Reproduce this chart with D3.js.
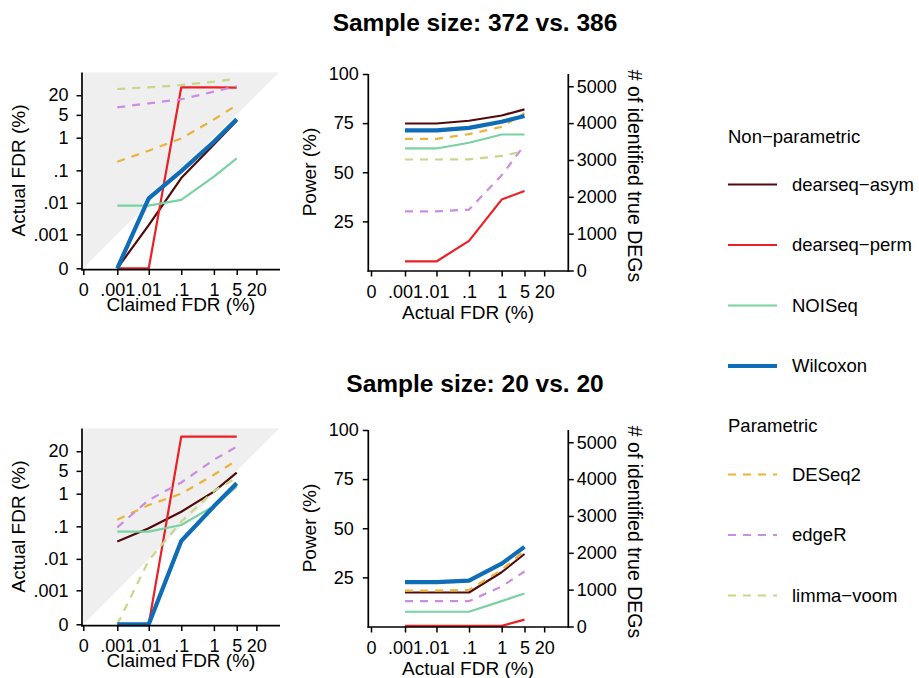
<!DOCTYPE html>
<html><head><meta charset="utf-8">
<script src="https://cdn.jsdelivr.net/npm/d3@7"></script>
<style>
body{margin:0;background:#fff;}
svg{display:block;font-family:"Liberation Sans",Arial,Helvetica,sans-serif;}
</style></head>
<body>
<script>
// ---------- data ----------
const claimedFDR = [0.001, 0.01, 0.1, 1, 5];
const fdrTicks = [0, 0.001, 0.01, 0.1, 1, 5, 20];
const fdrTickLabels = ["0", ".001", ".01", ".1", "1", "5", "20"];
const powerTicks = [25, 50, 75, 100];
const degTicks = [0, 1000, 2000, 3000, 4000, 5000];
const totalTrueDEGs = 5333;

const methods = ["dearseq\u2212asym", "dearseq\u2212perm", "NOISeq", "Wilcoxon", "DESeq2", "edgeR", "limma\u2212voom"];
const groups = ["Non\u2212parametric", "Non\u2212parametric", "Non\u2212parametric", "Non\u2212parametric", "Parametric", "Parametric", "Parametric"];
const drawOrder = ["dearseq\u2212asym", "dearseq\u2212perm", "DESeq2", "edgeR", "limma\u2212voom", "NOISeq", "Wilcoxon"];

const titles = ["Sample size: 372 vs. 386", "Sample size: 20 vs. 20"];

// Actual FDR (%) at each claimed FDR, large sample
const fdrLarge = {
  "dearseq\u2212asym": [0, 0.002, 0.058, 0.62, 3.3],
  "dearseq\u2212perm": [0, 0, 35, 35, 34],
  "NOISeq": [0.0082, 0.0082, 0.0123, 0.064, 0.234],
  "Wilcoxon": [0, 0.0138, 0.095, 0.75, 3.7],
  "DESeq2": [0.184, 0.4, 0.95, 3.6, 10],
  "edgeR": [8.5, 11.3, 15, 25.7, 38],
  "limma\u2212voom": [31, 35, 41, 52, 64]
};
// Power (%) large sample
const powLarge = {
  "dearseq\u2212asym": [74.8, 74.8, 76.2, 78.9, 82.0],
  "dearseq\u2212perm": [4.6, 4.6, 15.1, 36.1, 40.5],
  "NOISeq": [62.1, 62.1, 65.0, 69.2, 69.2],
  "Wilcoxon": [71.3, 71.3, 72.6, 75.7, 78.6],
  "DESeq2": [67.0, 67.0, 69.4, 73.1, 80.0],
  "edgeR": [30.1, 30.1, 31.0, 48.5, 63.8],
  "limma\u2212voom": [56.5, 56.5, 56.6, 58.3, 60.7]
};
// Actual FDR (%) small sample
const fdrSmall = {
  "dearseq\u2212asym": [0.034, 0.087, 0.28, 1.16, 4.4],
  "dearseq\u2212perm": [0, 0, 56, 56, 56],
  "NOISeq": [0.069, 0.069, 0.11, 0.42, 1.64],
  "Wilcoxon": [0, 0, 0.0355, 0.41, 2.1],
  "DESeq2": [0.16, 0.45, 1.0, 3.8, 10.5],
  "edgeR": [0.093, 0.64, 2.2, 11, 27.5],
  "limma\u2212voom": [0, 0.009, 0.14, 1.2, 3.1]
};
// Power (%) small sample
const powSmall = {
  "dearseq\u2212asym": [17.3, 17.3, 17.3, 27.6, 36.9],
  "dearseq\u2212perm": [0.3, 0.3, 0.3, 0.3, 3.5],
  "NOISeq": [7.5, 7.5, 7.5, 12.9, 16.8],
  "Wilcoxon": [22.6, 22.6, 23.3, 32.0, 40.5],
  "DESeq2": [18.3, 18.3, 18.6, 28.8, 38.5],
  "edgeR": [12.9, 12.9, 12.9, 20.4, 28.0],
  "limma\u2212voom": [22.5, 22.5, 23.2, 31.8, 40.2]
};

// ---------- styles ----------
const colors = {
  "dearseq\u2212asym": "#520b0b",
  "dearseq\u2212perm": "#ec1f24",
  "NOISeq": "#7ad2a2",
  "Wilcoxon": "#0f6cb6",
  "DESeq2": "#e9b33c",
  "edgeR": "#cc8ce0",
  "limma\u2212voom": "#c6d78c"
};
const widthOf = m => m === "Wilcoxon" ? 4.2 : 2.2;
const dashOf = m => groups[methods.indexOf(m)] === "Parametric" ? "8,7" : null;

const W = 919, H = 678;
const svg = d3.select("body").append("svg").attr("width", W).attr("height", H);

const rows = [
  {off: 0, fdr: fdrLarge, pow: powLarge, title: titles[0]},
  {off: 356, fdr: fdrSmall, pow: powSmall, title: titles[1]}
];

const TICK_FONT = 18, AXT_FONT = 19;

function axisLine(g, x1, y1, x2, y2) {
  g.append("line").attr("x1", x1).attr("y1", y1).attr("x2", x2).attr("y2", y2)
    .attr("stroke", "#000").attr("stroke-width", 1.7);
}
function styleAxis(g) {
  g.select(".domain").remove();
  g.selectAll(".tick line").attr("stroke", "#000").attr("stroke-width", 1.5);
  g.selectAll(".tick text").attr("fill", "#000").attr("font-size", TICK_FONT)
    .attr("font-family", "'Liberation Sans',Arial,sans-serif");
}

rows.forEach((row, ri) => {
  const o = row.off;
  const g = svg.append("g");

  g.append("text").attr("x", 475).attr("y", 31 + (ri ? 361 : 0))
    .attr("text-anchor", "middle").attr("font-weight", "bold").attr("font-size", 24.5)
    .text(row.title);

  // ----- left: actual vs claimed FDR -----
  const x = d3.scaleSymlog().constant(1e-4).domain([0, 100]).range([83.3, 279.2]);
  const y = d3.scaleSymlog().constant(1e-4).domain([0, 100]).range([268.3 + o, 72.4 + o]);

  g.append("path")
    .attr("d", d3.line()([[x(0), y(0)], [x(0), y(100)], [x(100), y(100)]]) + "Z")
    .attr("fill", "#efefef");

  const line = d3.line().x((d, i) => x(claimedFDR[i])).y(d => y(d));
  drawOrder.forEach(m => {
    g.append("path").datum(row.fdr[m]).attr("d", line)
      .attr("fill", "none").attr("stroke", colors[m]).attr("stroke-width", widthOf(m))
      .attr("stroke-dasharray", dashOf(m)).attr("stroke-linejoin", "round");
  });

  const axB = g.append("g").attr("transform", `translate(0,${269.6 + o})`)
    .call(d3.axisBottom(x).tickValues(fdrTicks).tickFormat((d, i) => fdrTickLabels[i]).tickSize(5.5).tickPadding(8.5));
  styleAxis(axB);
  const axL = g.append("g").attr("transform", `translate(82,0)`)
    .call(d3.axisLeft(y).tickValues(fdrTicks).tickFormat((d, i) => fdrTickLabels[i]).tickSize(5.5).tickPadding(8));
  styleAxis(axL);
  axisLine(g, 82, 72.4 + o, 82, 270.4 + o);
  axisLine(g, 81.2, 269.6 + o, 280, 269.6 + o);

  g.append("text").attr("x", 181).attr("y", 311 + o).attr("text-anchor", "middle")
    .attr("font-size", AXT_FONT).text("Claimed FDR (%)");
  g.append("text").attr("transform", `translate(24.5,${170.5 + o}) rotate(-90)`)
    .attr("text-anchor", "middle").attr("font-size", AXT_FONT).text("Actual FDR (%)");

  // ----- right: power -----
  const xr = d3.scaleSymlog().constant(1e-4).domain([0, 100]).range([371, 567]);
  const yp = d3.scaleLinear().domain([0, 100]).range([270.5 + o, 74 + o]);
  const yn = d3.scaleLinear().domain([0, totalTrueDEGs]).range([270.5 + o, 74 + o]);

  const pline = d3.line().x((d, i) => xr(claimedFDR[i])).y(d => yp(d));
  drawOrder.forEach(m => {
    g.append("path").datum(row.pow[m]).attr("d", pline)
      .attr("fill", "none").attr("stroke", colors[m]).attr("stroke-width", widthOf(m))
      .attr("stroke-dasharray", dashOf(m)).attr("stroke-linejoin", "round");
  });

  const axPB = g.append("g").attr("transform", `translate(0,${271 + o})`)
    .call(d3.axisBottom(xr).tickValues(fdrTicks).tickFormat((d, i) => fdrTickLabels[i]).tickSize(5.5).tickPadding(8.5));
  styleAxis(axPB);
  const axPL = g.append("g").attr("transform", `translate(368.3,0)`)
    .call(d3.axisLeft(yp).tickValues(powerTicks).tickFormat(d3.format("d")).tickSize(5.5).tickPadding(0));
  styleAxis(axPL);
  axPL.selectAll(".tick text").attr("text-anchor", "middle").attr("x", -24.5);
  const axPR = g.append("g").attr("transform", `translate(568.3,0)`)
    .call(d3.axisRight(yn).tickValues(degTicks).tickFormat(d3.format("d")).tickSize(5.5).tickPadding(3));
  styleAxis(axPR);
  axisLine(g, 368.3, 74 + o, 368.3, 271.8 + o);
  axisLine(g, 568.3, 74 + o, 568.3, 271.8 + o);
  axisLine(g, 367.5, 271 + o, 569.1, 271 + o);

  g.append("text").attr("x", 468).attr("y", 319 + o).attr("text-anchor", "middle")
    .attr("font-size", AXT_FONT).text("Actual FDR (%)");
  g.append("text").attr("transform", `translate(316,${172 + o}) rotate(-90)`)
    .attr("text-anchor", "middle").attr("font-size", AXT_FONT).text("Power (%)");
  g.append("text").attr("transform", `translate(627.5,${176 + o}) rotate(90)`)
    .attr("text-anchor", "middle").attr("font-size", 19.5).text("# of identified true DEGs");
});

// ---------- legend ----------
const lg = svg.append("g");
const legendTitleY = {"Non\u2212parametric": 137, "Parametric": 426};
const legendItemY = [184.5, 245, 305.5, 366, 474.5, 535, 595.5];
Object.keys(legendTitleY).forEach(t => {
  lg.append("text").attr("x", 728).attr("y", legendTitleY[t]).attr("dy", "0.35em")
    .attr("font-size", 18.5).text(t);
});
methods.forEach((m, i) => {
  const yy = legendItemY[i];
  lg.append("line").attr("x1", 728).attr("x2", 777).attr("y1", yy).attr("y2", yy)
    .attr("stroke", colors[m]).attr("stroke-width", widthOf(m)).attr("stroke-dasharray", dashOf(m));
  lg.append("text").attr("x", 792).attr("y", yy).attr("dy", "0.35em")
    .attr("font-size", 18.5).text(m);
});
</script>
</body></html>
